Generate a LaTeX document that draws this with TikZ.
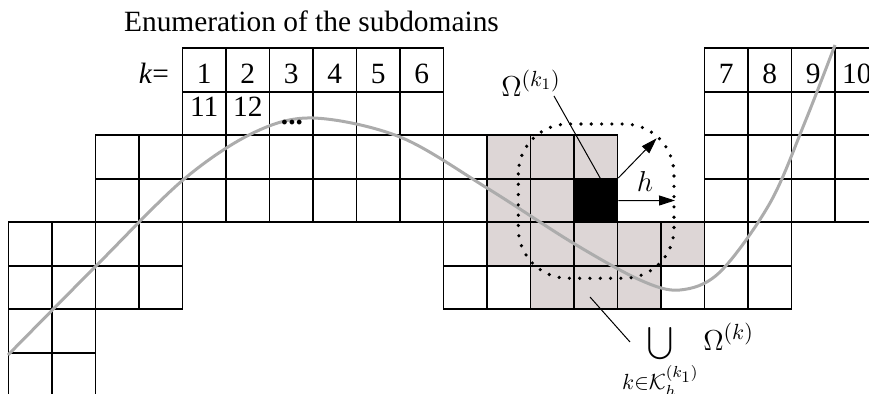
\documentclass[tikz,border=0pt]{standalone}
\usepackage{fontspec}
\usepackage{graphicx}
\setmainfont{Liberation Serif}
\usetikzlibrary{arrows.meta}
\definecolor{cellgray}{RGB}{221,214,214}
\definecolor{curvegray}{RGB}{172,172,172}
\begin{document}
\begin{tikzpicture}[x=0.5pt,y=-0.5pt,
  gridline/.style={line width=0.8pt, draw=black},
  txt/.style={font=\fontsize{14.7}{17}\selectfont, inner sep=0pt, anchor=base},
  mth/.style={font=\fontsize{15.5}{18}\selectfont, inner sep=0pt, anchor=base},
  thin/.style={line width=0.5pt},
  arr/.style={line width=0.5pt, -{Triangle[length=8pt,width=5pt]}},
  dotcurve/.style={line width=1.8pt, line cap=round, dash pattern=on 0pt off 5.15pt, rounded corners=25pt}]
\useasboundingbox (0,0) rectangle (869,394);
\begin{scope}
\clip (0,0) rectangle (869,394);
% shaded cells
\foreach \i/\j in {11/2,12/2,13/2,11/3,12/3,11/4,12/4,13/4,14/4,15/4,12/5,13/5,14/5}
  \fill[cellgray] ({8.5+43.5*\i},{48.3+43.5*\j}) rectangle +(43.5,43.5);
% grid cells
\foreach \j/\a/\b in {0/4/9, 1/4/9, 2/2/13, 3/2/13, 4/0/3, 5/0/3, 6/0/1, 7/0/1,
                     0/16/19, 1/16/19, 2/16/19, 3/16/19, 4/10/17, 5/10/17}
  \foreach \i in {\a,...,\b}
    \draw[gridline] ({8.5+43.5*\i},{48.3+43.5*\j}) rectangle +(43.5,43.5);
% black cell
\node[fill=black, draw=black, line width=0.8pt, minimum size=21.75pt, inner sep=0pt] (blk)
  at ({8.5+43.5*13.5},{48.3+43.5*3.5}) {};
% curve
\draw[curvegray, line width=1.5pt] plot[smooth, tension=0.55] coordinates {
  (8,355) (96,266) (183,180) (253,133) (313,118) (400,137) (487,188) (573,243)
  (640,280) (680,290) (720,272) (770,203) (805,122) (835,45)};
% dotted neighbourhood
\draw[dotcurve] (518.3,124) rectangle (674,278.3);
% union label (partly cut by the lower edge, as in the reference)
\node[mth] (uni) at (688,351) {$\displaystyle\mathop{\vcenter{\hbox{\scalebox{1.15}{$\displaystyle\bigcup$}}}}\limits_{k\in\mathcal{K}_h^{(k_1)}}\Omega^{(k)}$};
\end{scope}
% title
\node[txt] (title) at (311.5,31.7) {Enumeration of the subdomains};
% k= and numbers
\node[txt] (klab) at (154,83.3) {\textit{k}=};
\foreach \n [count=\c from 0] in {1,2,3,4,5,6}
  \node[txt] (n\n) at ({30.25+43.5*(4+\c)},83.3) {\n};
\foreach \n [count=\c from 0] in {7,8,9,10}
  \node[txt] (n\n) at ({30.25+43.5*(16+\c)},83.3) {\n};
\node[txt] (n11) at ({30.25+43.5*4},116.7) {11};
\node[txt] (n12) at ({30.25+43.5*5},116.7) {12};
\node[txt] (dots) at (292,125) {\textbf{...}};
% Omega^(k1) label and pointer
\node[mth] (om1) at (531,97) {$\Omega^{(k_1)}$};
\coordinate (omtail) at (554,96);
\draw[thin] (omtail) -- ([xshift=2.2pt]blk.north);
% h arrows
\coordinate (hdiag) at (656.7,138.3);
\coordinate (hright) at (675,200.5);
\draw[arr] (blk.north east) -- (hdiag);
\draw[arr] (blk.east) -- (hright);
\node[mth] (hlab) at (645,192) {$h$};
% union pointer
\coordinate (unitail) at (590,297);
\coordinate (unihead) at (630,342);
\draw[thin] (unitail) -- (unihead);
\end{tikzpicture}
\end{document}
